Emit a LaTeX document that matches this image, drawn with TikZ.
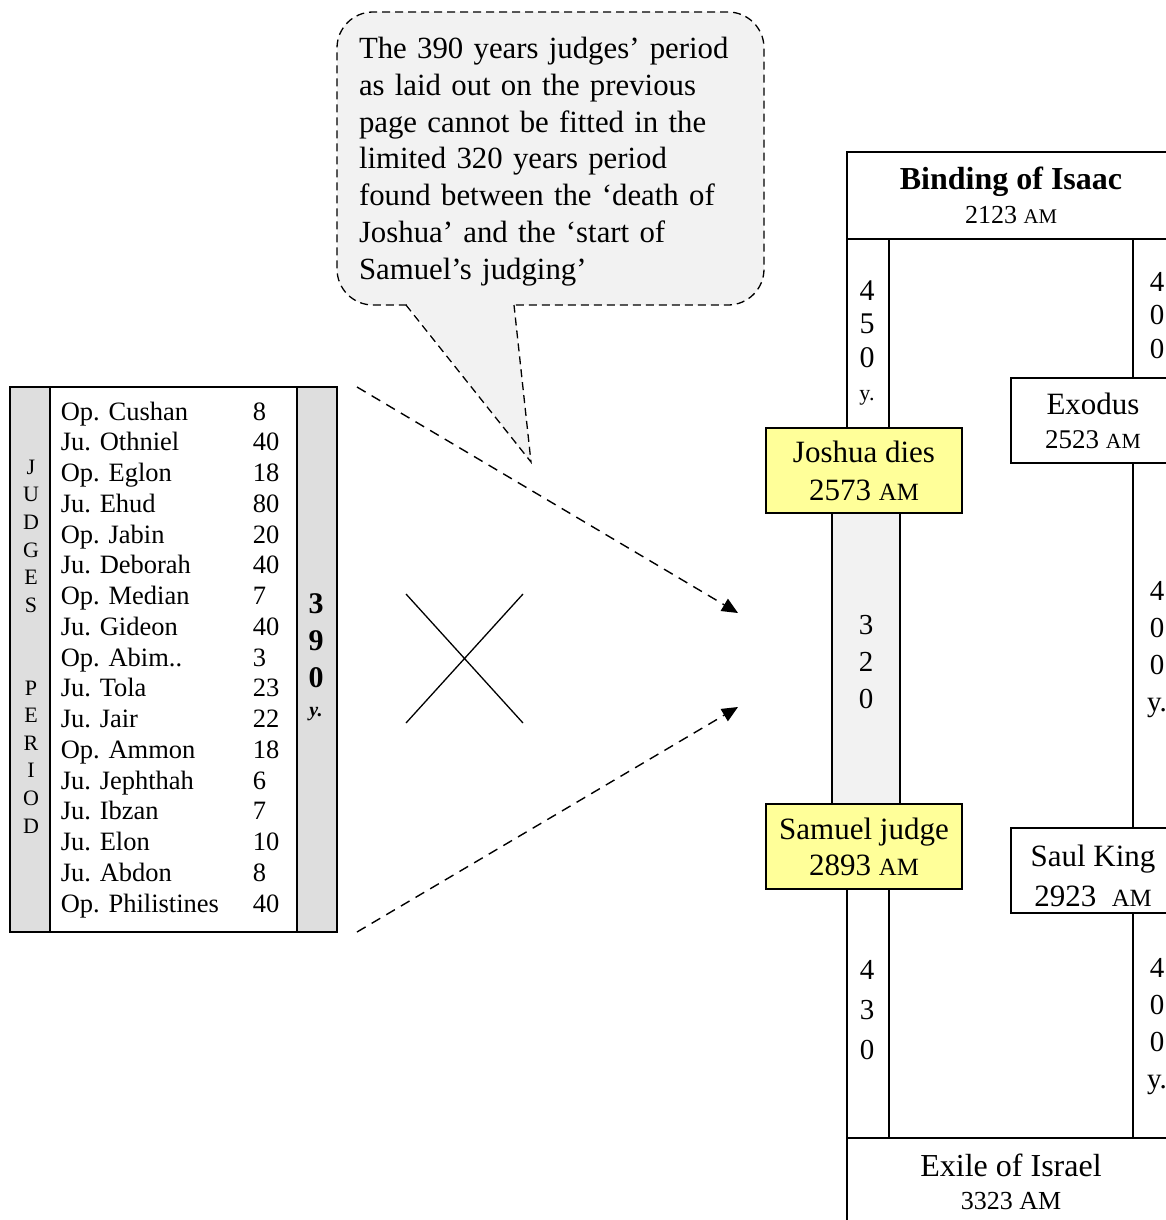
\documentclass[tikz,border=0pt]{standalone}
\usepackage{fontspec}
\usepackage{graphicx}
\setmainfont{Liberation Serif}
\usepackage{tikz}
\usetikzlibrary{arrows.meta, calc}
\definecolor{hiyellow}{HTML}{FFFF99}
\definecolor{notegray}{HTML}{F2F2F2}
\newcommand{\am}{\scalebox{0.8}{AM}}

\begin{document}
\begin{tikzpicture}[x=0.5pt, y=-0.5pt, line width=0.75pt, >={Triangle[length=8pt, width=7pt]},
  evbox/.style={draw, fill=white, align=center, inner sep=0pt, outer sep=0pt, font=\fontsize{15.5}{18}\selectfont},
  evhi/.style={evbox, fill=hiyellow, minimum width=98pt, minimum height=42.5pt},
  yrstrip/.style={draw, fill=white, inner sep=0pt, outer sep=0pt, minimum width=21pt},
  digits/.style={align=center, inner sep=0pt, font=\fontsize{14.5}{18.5}\selectfont},
  row/.style={anchor=base west, inner sep=0pt, font=\fontsize{13.25}{15}\selectfont},
  shade/.style={draw, fill=black!13, inner sep=0pt, outer sep=0pt, minimum width=20pt, minimum height=272.5pt},
  dasharrow/.style={->, line width=0.7pt, dash pattern=on 5pt off 3.5pt},
  notedash/.style={line width=0.65pt, dash pattern=on 4pt off 2.5pt},
  note/.style={notedash, draw, fill=notegray, rounded corners=18pt, inner sep=0pt, outer sep=0pt}]
  \clip (0,0) rectangle (1166,1220);
  \useasboundingbox (0,0) rectangle (1166,1220);

  % nube de comentario
  \node[note, minimum width=213.5pt, minimum height=146.5pt] (note) at (550.5,158.5) {};
  \node[align=left, inner sep=0pt, text width=191.5pt, font=\fontsize{15.4}{18.4}\selectfont]
    (notetext) at ($(note)+(0,3)$)
    {The 390 years judges’ period\\ as laid out on the previous\\ page cannot be fitted in the\\
     limited 320 years period\\ found between the ‘death of\\ Joshua’ and the ‘start of\\ Samuel’s judging’};
  \coordinate (tip) at (531,462);
  \fill[notegray] ($(note.south)+(-144.5,-3)$) -- (tip) -- ($(note.south)+(-36.5,-3)$) -- cycle;
  \draw[notedash] ($(note.south)+(-144.5,0)$) -- (tip) -- ($(note.south)+(-36.5,0)$);

  % tabla de jueces
  \node[draw, minimum width=163.5pt, minimum height=272.5pt, inner sep=0pt, outer sep=0pt] (table) at (173.5,659.5) {};
  \node[shade, anchor=west] (judges) at (table.west) {};
  \node[shade, anchor=east] (total) at (table.east) {};
  \node[align=center, inner sep=0pt, font=\fontsize{11}{13.8}\selectfont] (jlabel) at (31,646.5)
    {J\\U\\D\\G\\E\\S\\[27.6pt]P\\E\\R\\I\\O\\D};
  \node[align=center, inner sep=0pt, font=\fontsize{15}{18.5}\selectfont\bfseries] (tlabel) at (316,657)
    {3\\9\\0\\[-4pt]{\fontsize{10}{11}\selectfont\itshape y.}};
  \foreach \nm/\yr [count=\i from 0] in {Op. Cushan/8, Ju. Othniel/40, Op. Eglon/18, Ju. Ehud/80,
      Op. Jabin/20, Ju. Deborah/40, Op. Median/7, Ju. Gideon/40, Op. Abim../3, Ju. Tola/23,
      Ju. Jair/22, Op. Ammon/18, Ju. Jephthah/6, Ju. Ibzan/7, Ju. Elon/10, Ju. Abdon/8,
      Op. Philistines/40}{
    \node[row] (name\i) at (60,420+30.75*\i) {\nm};
    \node[row] (years\i) at (252,420+30.75*\i) {\yr};
  }

  % flechas y cruz
  \coordinate (from1) at ($(table.north east)+(20,0)$);
  \coordinate (from2) at ($(table.south east)+(20,0)$);
  \coordinate (to1) at (738,613);
  \coordinate (to2) at (738,707);
  \draw[dasharrow] (from1) -- (to1);
  \draw[dasharrow] (from2) -- (to2);
  \coordinate (cross) at (464.5,658.5);
  \draw[line width=0.65pt] (cross) +(-58.5,-64.5) -- +(58.5,64.5)
                           (cross) +(58.5,-64.5) -- +(-58.5,64.5);

  % cronologia
  \node[evbox, minimum width=164pt, minimum height=43.5pt] (isaac) at (1011,195.5)
    {{\fontsize{16}{17}\selectfont\bfseries Binding of Isaac}\\[-1pt]{\fontsize{13}{15}\selectfont 2123 \am}};
  \node[yrstrip, anchor=north west, minimum height=94.5pt] (s450) at (isaac.south west) {};
  \node[yrstrip, anchor=north east, minimum height=69.5pt] (s400a) at (isaac.south east) {};
  \node[evbox, anchor=north east, minimum width=82pt, minimum height=42.5pt] (exodus) at (s400a.south east)
    {Exodus\\[-1pt]{\fontsize{13.5}{15}\selectfont 2523 \am}};
  \node[evhi] (joshua) at (864,470.5) {Joshua dies\\[1pt]2573 \am};
  \node[yrstrip, fill=notegray, minimum width=34pt, minimum height=145.5pt, anchor=north] (s320)
    at ($(joshua.south)+(2,0)$) {};
  \node[evhi, anchor=north] (samuel) at ($(s320.south)+(-2,0)$) {Samuel judge\\[0pt]2893 \am};
  \node[yrstrip, anchor=north, minimum height=124.5pt] (s430) at ($(samuel.south)+(4,0)$) {};
  \node[evbox, anchor=north west, minimum width=164pt, minimum height=43.5pt] (exile) at (s430.south west)
    {{\fontsize{16}{17}\selectfont Exile of Israel}\\[-1.5pt]{\fontsize{13}{15}\selectfont 3323 AM}};
  \node[yrstrip, anchor=north east, minimum height=182.5pt] (s400b) at (exodus.south east) {};
  \node[evbox, anchor=north east, minimum width=82pt, minimum height=42.5pt] (saul) at (s400b.south east) {};
  \node[align=center, inner sep=0pt, font=\fontsize{15.5}{18}\selectfont] (saultext) at ($(saul)+(0,5)$)
    {Saul King\\[2pt]2923~~\am};
  \node[yrstrip, anchor=north east, minimum height=112.5pt] (s400c) at (saul.south east) {};

  % cifras de los tramos
  \node[digits, font=\fontsize{15}{16.75}\selectfont] (t450) at (867,343)
    {4\\5\\0\\{\fontsize{11}{12}\selectfont y.}};
  \node[digits] (t320) at (866,662) {3\\2\\0};
  \node[digits, font=\fontsize{14.5}{20}\selectfont] (t430) at (867,1010) {4\\3\\0};
  \node[digits, font=\fontsize{14.5}{16.75}\selectfont] (t400a) at (1157,315.5) {4\\0\\0};
  \node[digits] (t400b) at (1157,649.5) {4\\0\\0\\y.};
  \node[digits] (t400c) at (1157,1027) {4\\0\\0\\y.};
\end{tikzpicture}
\end{document}
